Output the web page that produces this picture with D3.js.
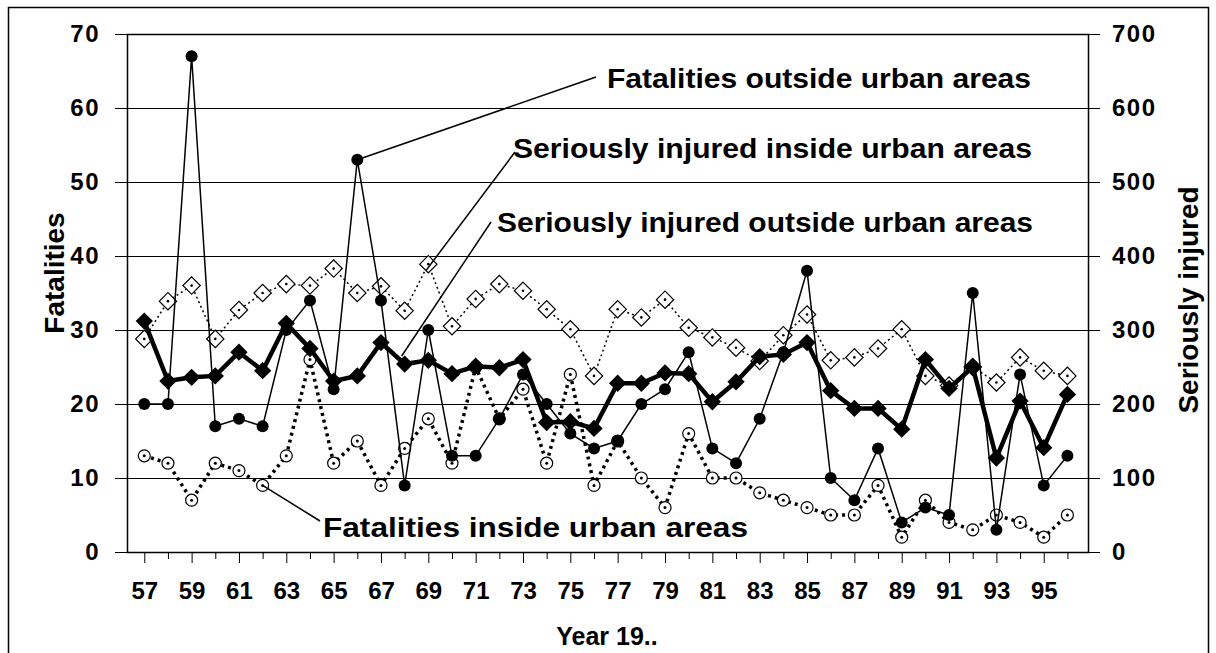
<!DOCTYPE html>
<html>
<head>
<meta charset="utf-8">
<script src="https://cdn.jsdelivr.net/npm/d3@7"></script>
<style>
  body { margin: 0; background: #fff; }
  svg { display: block; font-family: "Liberation Sans", Arial, sans-serif; font-weight: bold; }
</style>
</head>
<body>
<div id="chart"></div>
<script>
const years = d3.range(57, 97);

// fatalities (left axis)
const fatOutside = [20, 20, 67, 17, 18, 17, 30, 34, 22, 53, 34, 9, 30, 13, 13, 18, 24, 20, 16, 14,
                    15, 20, 22, 27, 14, 12, 18, 27, 38, 10, 7, 14, 4, 6, 5, 35, 3, 24, 9, 13];
const fatInside  = [13, 12, 7, 12, 11, 9, 13, 26, 12, 15, 9, 14, 18, 12, 25, 18, 22, 12, 24, 9,
                    15, 10, 6, 16, 10, 10, 8, 7, 6, 5, 5, 9, 2, 7, 4, 3, 5, 4, 2, 5];
// seriously injured (right axis)
const injOutside = [312, 231, 236, 238, 270, 245, 309, 275, 231, 238, 283, 254, 259, 241, 251, 249, 260, 175, 176, 167,
                    228, 228, 242, 241, 203, 230, 264, 267, 283, 218, 194, 194, 166, 260, 221, 250, 127, 204, 141, 213];
const injInside  = [288, 339, 360, 288, 327, 350, 362, 360, 383, 350, 359, 326, 389, 305, 342, 362, 353, 328, 301, 238,
                    328, 317, 341, 303, 290, 276, 258, 293, 321, 259, 263, 275, 301, 238, 225, 250, 229, 263, 245, 238];

const leftTicks  = [0, 10, 20, 30, 40, 50, 60, 70];
const rightTicks = [0, 100, 200, 300, 400, 500, 600, 700];
const labelYears = d3.range(57, 97, 2);

const W = 1216, H = 653;
const plot = { left: 127, right: 1088, top: 34, bottom: 552 };

const svg = d3.select("#chart").append("svg")
  .attr("width", W)
  .attr("height", H);

// outer frame
svg.append("rect")
  .attr("x", 8.5).attr("y", 7.5)
  .attr("width", 1200).attr("height", 660)
  .attr("fill", "none").attr("stroke", "#000").attr("stroke-width", 1.5);

const x = d3.scaleLinear().domain([57 - 0.73, 96 + 0.87]).range([plot.left, plot.right]);
const y = d3.scaleLinear().domain([0, 70]).range([plot.bottom, plot.top]);
const y2 = d3.scaleLinear().domain([0, 700]).range([plot.bottom, plot.top]);

// gridlines
svg.append("g")
  .selectAll("line")
  .data(leftTicks.filter(d => d > 0 && d < 70))
  .join("line")
    .attr("x1", plot.left).attr("x2", plot.right)
    .attr("y1", d => Math.round(y(d)) + 0.5).attr("y2", d => Math.round(y(d)) + 0.5)
    .attr("stroke", "#000").attr("stroke-width", 1);

// plot frame
svg.append("rect")
  .attr("x", plot.left + 0.5).attr("y", plot.top + 0.5)
  .attr("width", plot.right - plot.left).attr("height", plot.bottom - plot.top)
  .attr("fill", "none").attr("stroke", "#000").attr("stroke-width", 1.5);

// left axis
const yAxis = svg.append("g")
  .attr("transform", `translate(${plot.left},0)`)
  .call(d3.axisLeft(y).tickValues(leftTicks).tickSize(12).tickPadding(15));
yAxis.select(".domain").remove();
yAxis.selectAll("text").style("font-size", "24px").style("font-weight", "bold")
  .style("letter-spacing", "1.5px").attr("fill", "#000");

// right axis
const y2Axis = svg.append("g")
  .attr("transform", `translate(${plot.right},0)`)
  .call(d3.axisRight(y2).tickValues(rightTicks).tickSize(12).tickPadding(12));
y2Axis.select(".domain").remove();
y2Axis.selectAll("text").style("font-size", "24px").style("font-weight", "bold")
  .style("letter-spacing", "1.5px").attr("fill", "#000");

// x axis
const xAxis = svg.append("g")
  .attr("transform", `translate(0,${plot.bottom})`)
  .call(d3.axisBottom(x).tickValues(years).tickSize(8).tickFormat(d => labelYears.includes(d) ? d : ""));
xAxis.select(".domain").remove();
xAxis.selectAll(".tick line").attr("y2", d => labelYears.includes(d) ? 11 : 7);
xAxis.selectAll("text")
  .attr("y", 30)
  .style("font-size", "24px").style("font-weight", "bold").attr("fill", "#000");

// axis titles
svg.append("text")
  .attr("transform", "rotate(-90)")
  .attr("x", -273).attr("y", 64)
  .attr("text-anchor", "middle")
  .style("font-size", "28px")
  .text("Fatalities");

svg.append("text")
  .attr("transform", "rotate(-90)")
  .attr("x", -300).attr("y", 1198)
  .attr("text-anchor", "middle")
  .style("font-size", "28px")
  .text("Seriously injured");

svg.append("text")
  .attr("x", 607).attr("y", 645)
  .attr("text-anchor", "middle")
  .style("font-size", "25px")
  .text("Year 19..");

// series
const fatOutData = years.map((yr, i) => ({ yr, v: fatOutside[i] }));
const fatInData  = years.map((yr, i) => ({ yr, v: fatInside[i] }));
const injOutData = years.map((yr, i) => ({ yr, v: injOutside[i] }));
const injInData  = years.map((yr, i) => ({ yr, v: injInside[i] }));

const lineL = d3.line().x(d => x(d.yr)).y(d => y(d.v));
const lineR = d3.line().x(d => x(d.yr)).y(d => y2(d.v));

const diamond = d3.symbol().type(d3.symbolSquare).size(150);

// seriously injured inside: thin dotted line, open diamonds
svg.append("path").datum(injInData)
  .attr("fill", "none").attr("stroke", "#000").attr("stroke-width", 1.5)
  .attr("stroke-dasharray", "2,3")
  .attr("d", lineR);
const gIn = svg.append("g").selectAll("g").data(injInData).join("g")
  .attr("transform", d => `translate(${x(d.yr)},${y2(d.v)})`);
gIn.append("path").attr("d", diamond).attr("transform", "rotate(45)")
  .attr("fill", "#fff").attr("stroke", "#000").attr("stroke-width", 1.2);
gIn.append("circle").attr("r", 1.3).attr("fill", "#000");

// fatalities inside: thick dotted line, open circles
svg.append("path").datum(fatInData)
  .attr("fill", "none").attr("stroke", "#000").attr("stroke-width", 3.5)
  .attr("stroke-dasharray", "3,4")
  .attr("d", lineL);
const gFi = svg.append("g").selectAll("g").data(fatInData).join("g")
  .attr("transform", d => `translate(${x(d.yr)},${y(d.v)})`);
gFi.append("circle").attr("r", 6).attr("fill", "#fff").attr("stroke", "#000").attr("stroke-width", 1.2);
gFi.append("circle").attr("r", 1.5).attr("fill", "#000");

// seriously injured outside: thick solid line, filled diamonds
svg.append("path").datum(injOutData)
  .attr("fill", "none").attr("stroke", "#000").attr("stroke-width", 4.5)
  .attr("d", lineR);
svg.append("g").selectAll("path").data(injOutData).join("path")
  .attr("d", diamond)
  .attr("transform", d => `translate(${x(d.yr)},${y2(d.v)}) rotate(45)`)
  .attr("fill", "#000");

// fatalities outside: thin solid line, filled circles
svg.append("path").datum(fatOutData)
  .attr("fill", "none").attr("stroke", "#000").attr("stroke-width", 1.5)
  .attr("d", lineL);
svg.append("g").selectAll("circle").data(fatOutData).join("circle")
  .attr("cx", d => x(d.yr)).attr("cy", d => y(d.v))
  .attr("r", 6).attr("fill", "#000");

// annotations
const notes = [
  { label: "Fatalities outside urban areas", tx: 607, ty: 88, len: 424, lx: 596, ly: 77, px: x(66), py: y(53) },
  { label: "Seriously injured inside urban areas", tx: 513, ty: 158, len: 519, lx: 515, ly: 152, px: x(69) - 2, py: y2(389) + 6 },
  { label: "Seriously injured outside urban areas", tx: 497, ty: 232, len: 536, lx: 491, ly: 222, px: x(68) - 3, py: y2(254) - 8 },
  { label: "Fatalities inside urban areas", tx: 323, ty: 537, len: 425, lx: 320, ly: 521, px: x(62), py: y(9) }
];
const ann = svg.append("g");
ann.selectAll("line").data(notes).join("line")
  .attr("x1", d => d.lx).attr("y1", d => d.ly)
  .attr("x2", d => d.px).attr("y2", d => d.py)
  .attr("stroke", "#000").attr("stroke-width", 1.5);
ann.selectAll("text").data(notes).join("text")
  .attr("x", d => d.tx).attr("y", d => d.ty)
  .attr("textLength", d => d.len)
  .attr("lengthAdjust", "spacingAndGlyphs")
  .style("font-size", "27px")
  .text(d => d.label);
</script>
</body>
</html>
